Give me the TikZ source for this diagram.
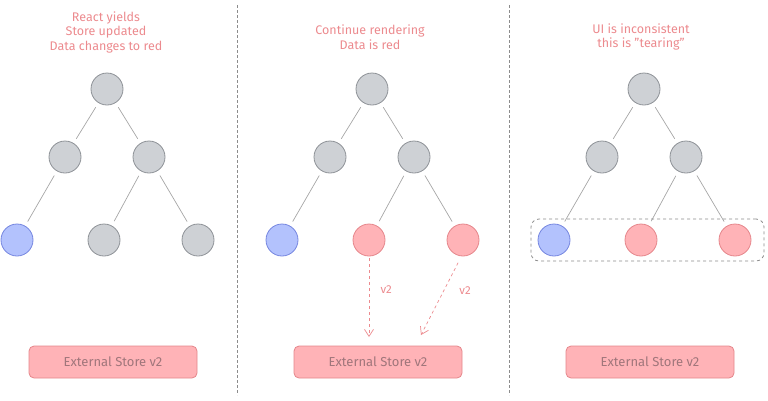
\documentclass[tikz,border=0pt]{standalone}
\usepackage{fontspec}
\setmainfont{Fira Sans}
\usetikzlibrary{arrows.meta}
\definecolor{nodegray}{HTML}{CED1D5}
\definecolor{nodegrayline}{HTML}{8E9297}
\definecolor{nodeblue}{HTML}{B3C2FD}
\definecolor{nodeblueline}{HTML}{7586E0}
\definecolor{nodered}{HTML}{FFB3B7}
\definecolor{noderedline}{HTML}{E5868B}
\definecolor{notepink}{HTML}{EC8A8E}
\definecolor{storetext}{HTML}{A0767B}
\definecolor{edgegray}{HTML}{A6A6A6}
\definecolor{dashgray}{HTML}{8C8C8C}
\tikzset{
  comp/.style={circle,minimum size=32pt,inner sep=0pt,line width=0.8pt},
  compgray/.style={comp,fill=nodegray,draw=nodegrayline},
  compblue/.style={comp,fill=nodeblue,draw=nodeblueline},
  compred/.style={comp,fill=nodered,draw=noderedline},
  treeedge/.style={edgegray,line width=0.7pt,shorten >=5pt,shorten <=5pt},
  note/.style={text=notepink,align=center,font=\fontsize{12.5}{14.5}\selectfont},
  store/.style={rectangle,rounded corners=5pt,fill=nodered,draw=noderedline,line width=0.8pt,
    minimum width=168pt,minimum height=32pt,text=storetext,font=\fontsize{13}{15}\selectfont},
  readarrow/.style={notepink,dashed,line width=0.7pt,-{Straight Barb[length=7pt,width=9pt]}},
  readlabel/.style={text=notepink,font=\fontsize{11.5}{13}\selectfont},
  divider/.style={dashgray,line width=0.8pt,dash pattern=on 3pt off 2pt},
}
\begin{document}
\begin{tikzpicture}[x=1pt,y=-1pt]
\useasboundingbox (0,0) rectangle (768,400);
%\draw[gray,very thin] (0,0) grid[step=50] (768,400);
\draw[divider] (237,5) -- (237,395);
\draw[divider] (509,5) -- (509,395);
% the three trees
\foreach \px/\sa/\sb/\sc/\p in {0/compblue/compgray/compgray/1,265/compblue/compred/compred/2,537/compblue/compred/compred/3}{
  \node[compgray] (r\p) at (107+\px,89) {};
  \node[compgray] (a\p) at (65+\px,157) {};
  \node[compgray] (b\p) at (149+\px,157) {};
  \node[\sa] (l\p) at (17+\px,240) {};
  \node[\sb] (m\p) at (104+\px,240) {};
  \node[\sc] (n\p) at (198+\px,240) {};
  \draw[treeedge] (r\p) -- (a\p);
  \draw[treeedge] (r\p) -- (b\p);
  \draw[treeedge] (a\p) -- (l\p);
  \draw[treeedge] (b\p) -- (m\p);
  \draw[treeedge] (b\p) -- (n\p);
  \node[store] (s\p) at (113+\px,362) {External Store v2};
}
\node[note] (t1) at (106,32) {React yields\\Store updated\\Data changes to red};
\node[note] (t2) at (370,37) {Continue rendering\\Data is red};
\node[note] (t3) at (641,37) {UI is inconsistent\\this is "tearing"};
% reads of the store
\coordinate (e1) at (369,337);
\coordinate (e2) at (421,335);
\draw[readarrow] (m2.south) ++(0,2) -- node[readlabel,right=8pt,pos=0.4] {v2} (e1);
\draw[readarrow,shorten <=2pt] (n2) ++(-4,21) -- node[readlabel,right=12pt,pos=0.4] {v2} (e2);
\node[draw=dashgray,dashed,line width=0.8pt,rounded corners=8pt,minimum width=233pt,minimum height=42pt] (tear) at (647.5,240) {};
\end{tikzpicture}
\end{document}
